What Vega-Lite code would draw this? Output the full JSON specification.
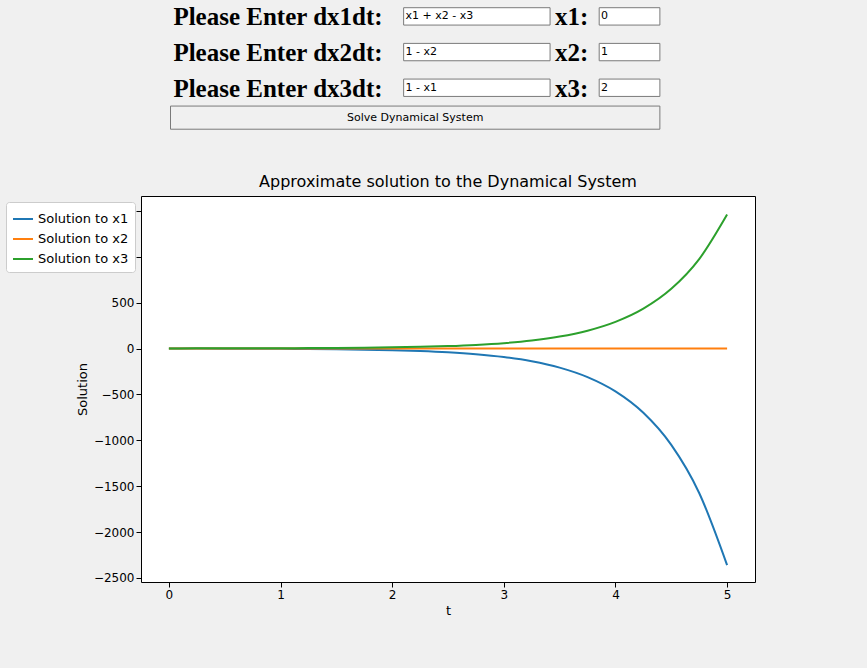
{
"$schema":"https://vega.github.io/schema/vega-lite/v6.json",
"background":"#f0f0f0",
"padding":{"left":0,"top":0,"right":0,"bottom":50},
"spacing":38,
"resolve":{"legend":{"color":"independent"},"scale":{"color":"independent"}},
"config":{"font":"DejaVu Sans","view":{"stroke":null}},
"datasets":{
"boxes":[
{"x":419,"x2":571,"y":8,"y2":26,"f":"w"},{"x":622,"x2":685,"y":8,"y2":26,"f":"w"},
{"x":419,"x2":571,"y":45,"y2":63,"f":"w"},{"x":622,"x2":685,"y":45,"y2":63,"f":"w"},
{"x":419,"x2":571,"y":82,"y2":100,"f":"w"},{"x":622,"x2":685,"y":82,"y2":100,"f":"w"},
{"x":177,"x2":685,"y":110,"y2":134,"f":"b"}],
"labels":[
{"x":180,"y":18,"t":"Please Enter dx1dt:"},{"x":576,"y":18,"t":"x1:"},
{"x":180,"y":55,"t":"Please Enter dx2dt:"},{"x":576,"y":55,"t":"x2:"},
{"x":180,"y":92,"t":"Please Enter dx3dt:"},{"x":576,"y":92,"t":"x3:"}],
"small":[
{"x":421,"y":17,"t":"x1 + x2 - x3"},{"x":624,"y":17,"t":"0"},
{"x":421,"y":54,"t":"1 - x2"},{"x":624,"y":54,"t":"1"},
{"x":421,"y":91,"t":"1 - x1"},{"x":624,"y":91,"t":"2"}],
"sol":[
{"t":0,"s":"Solution to x1","v":0},{"t":0.25,"s":"Solution to x1","v":-0.321},{"t":0.5,"s":"Solution to x1","v":-0.828},{"t":0.75,"s":"Solution to x1","v":-1.609},{"t":1,"s":"Solution to x1","v":-2.798},{"t":1.25,"s":"Solution to x1","v":-4.596},{"t":1.5,"s":"Solution to x1","v":-7.304},{"t":1.75,"s":"Solution to x1","v":-11.37},{"t":2,"s":"Solution to x1","v":-17.48},{"t":2.25,"s":"Solution to x1","v":-26.65},{"t":2.5,"s":"Solution to x1","v":-40.38},{"t":2.75,"s":"Solution to x1","v":-60.98},{"t":3,"s":"Solution to x1","v":-91.8},{"t":3.25,"s":"Solution to x1","v":-138.1},{"t":3.5,"s":"Solution to x1","v":-207.4},{"t":3.75,"s":"Solution to x1","v":-311.2},{"t":4,"s":"Solution to x1","v":-466.9},{"t":4.25,"s":"Solution to x1","v":-700.2},{"t":4.5,"s":"Solution to x1","v":-1049.7},{"t":4.75,"s":"Solution to x1","v":-1573.6},{"t":5,"s":"Solution to x1","v":-2359.4},
{"t":0,"s":"Solution to x2","v":1},{"t":1,"s":"Solution to x2","v":1},{"t":2,"s":"Solution to x2","v":1},{"t":3,"s":"Solution to x2","v":1},{"t":4,"s":"Solution to x2","v":1},{"t":5,"s":"Solution to x2","v":1},
{"t":0,"s":"Solution to x3","v":2},{"t":0.25,"s":"Solution to x3","v":2.287},{"t":0.5,"s":"Solution to x3","v":2.676},{"t":0.75,"s":"Solution to x3","v":3.224},{"t":1,"s":"Solution to x3","v":4.014},{"t":1.25,"s":"Solution to x3","v":5.173},{"t":1.5,"s":"Solution to x3","v":6.888},{"t":1.75,"s":"Solution to x3","v":9.438},{"t":2,"s":"Solution to x3","v":13.24},{"t":2.25,"s":"Solution to x3","v":18.93},{"t":2.5,"s":"Solution to x3","v":27.45},{"t":2.75,"s":"Solution to x3","v":40.19},{"t":3,"s":"Solution to x3","v":59.26},{"t":3.25,"s":"Solution to x3","v":87.9},{"t":3.5,"s":"Solution to x3","v":130.7},{"t":3.75,"s":"Solution to x3","v":195.0},{"t":4,"s":"Solution to x3","v":291.1},{"t":4.25,"s":"Solution to x3","v":435.3},{"t":4.5,"s":"Solution to x3","v":651.3},{"t":4.75,"s":"Solution to x3","v":975.1},{"t":5,"s":"Solution to x3","v":1460.8}]
},
"vconcat":[
{"width":867,"height":135,
"layer":[
{"data":{"name":"boxes"},"mark":{"type":"rect","stroke":"#7a7a7a","strokeWidth":1},
"encoding":{"x":{"field":"x","type":"quantitative","scale":{"domain":[0,867]},"axis":null},"x2":{"field":"x2"},
"y":{"field":"y","type":"quantitative","scale":{"domain":[0,135],"reverse":true},"axis":null},"y2":{"field":"y2"},
"fill":{"field":"f","type":"nominal","scale":{"domain":["w","b"],"range":["#ffffff","#f0f0f0"]},"legend":null}}},
{"data":{"name":"labels"},"mark":{"type":"text","font":"Liberation Serif","fontWeight":"bold","fontSize":25,"align":"left","baseline":"middle"},
"encoding":{"x":{"field":"x","type":"quantitative"},"y":{"field":"y","type":"quantitative"},"text":{"field":"t"}}},
{"data":{"name":"small"},"mark":{"type":"text","fontSize":11,"align":"left","baseline":"middle","color":"#000"},
"encoding":{"x":{"field":"x","type":"quantitative"},"y":{"field":"y","type":"quantitative"},"text":{"field":"t"}}},
{"data":{"values":[{"x":431,"y":122,"t":"Solve Dynamical System"}]},"mark":{"type":"text","fontSize":11,"align":"center","baseline":"middle"},
"encoding":{"x":{"field":"x","type":"quantitative"},"y":{"field":"y","type":"quantitative"},"text":{"field":"t"}}}
]},
{"hconcat":[
{"width":55,"height":386,"data":{"values":[]},"mark":"point","encoding":{}},
{"width":614,"height":386,
"title":{"text":"Approximate solution to the Dynamical System","fontSize":16,"fontWeight":"normal","font":"DejaVu Sans","offset":6},
"data":{"name":"sol"},
"mark":{"type":"line","strokeWidth":2,"interpolate":"monotone"},
"view":{"fill":"white","stroke":"black","strokeWidth":1},
"encoding":{
"x":{"field":"t","type":"quantitative","scale":{"domain":[-0.25,5.25],"nice":false,"zero":false},
"axis":{"values":[0,1,2,3,4,5],"grid":false,"title":"t","titleFontWeight":"normal","titleFontSize":13,"labelFontSize":12,"domain":false,"tickColor":"black","labelColor":"black","titleColor":"black"}},
"y":{"field":"v","type":"quantitative","scale":{"domain":[-2544,1663],"nice":false},
"axis":{"values":[-2500,-2000,-1500,-1000,-500,0,500,1000,1500],"format":"d","grid":false,"title":"Solution","titleFontWeight":"normal","titleFontSize":13,"labelFontSize":12,"domain":false,"tickColor":"black","labelColor":"black","titleColor":"black"}},
"color":{"field":"s","type":"nominal","scale":{"range":["#1f77b4","#ff7f0e","#2ca02c"]},
"legend":{"title":null,"orient":"top-left","symbolType":"stroke","symbolStrokeWidth":2,"symbolSize":400,"labelFontSize":13,"fillColor":"white","strokeColor":"#cccccc","padding":6,"cornerRadius":3,"offset":6}}}
}]}
]
}
